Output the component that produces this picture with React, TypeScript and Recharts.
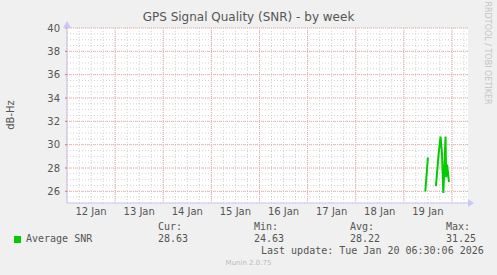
import React from "react";
import { ComposedChart, Line, XAxis, YAxis, CartesianGrid } from "recharts";

// hours since 12 Jan 00:00
const hours = [178.7, 180, 182, 184, 185.3, 186.3, 187, 187.7, 188.3, 188.8, 189.1, 189.6, 190.5];
const snr: (number | null)[] = [26.0, 28.9, null, 26.45, 29.1, 30.7, 29.3, 25.85, 28.4, 30.7, 27.2, 28.3, 26.8];

const dayLabels = ["12 Jan", "13 Jan", "14 Jan", "15 Jan", "16 Jan", "17 Jan", "18 Jan", "19 Jan"];
const labelTicks = [12, 36, 60, 84, 108, 132, 156, 180];
const dayTicks = [0, 24, 48, 72, 96, 120, 144, 168, 192];
const minorXTicks = Array.from({ length: 34 }, (_, i) => i * 6);
const yTicks = [26, 28, 30, 32, 34, 36, 38, 40];
const minorYTicks = Array.from({ length: 31 }, (_, i) => 25 + i * 0.5);

const legendName = "Average SNR";
const statLabels = ["Cur:", "Min:", "Avg:", "Max:"];
const statValues = ["28.63", "24.63", "28.22", "31.25"];

const data = hours.map((h, i) => ({ h, snr: snr[i] }));

const W = 497;
const H = 275;
const GREY = "#555";
const mono = "'DejaVu Sans Mono', monospace";
const sans = "'DejaVu Sans', sans-serif";

export default function App() {
  const tickFmt = (v: number) => dayLabels[labelTicks.indexOf(v)] ?? "";
  return (
    <div style={{ position: "absolute", left: 0, top: 0, width: W, height: H, background: "#f0f0f0", overflow: "hidden" }}>
      <ComposedChart width={W} height={H} data={data} margin={{ top: 28, right: 29, bottom: 52, left: 0 }}>
        <CartesianGrid
          xAxisId="main"
          fill="#ffffff"
          stroke="#d2d2d2"
          strokeDasharray="1 2"
          horizontalValues={minorYTicks}
          verticalValues={minorXTicks}
        />
        <CartesianGrid
          xAxisId="main"
          stroke="#eeaaaa"
          strokeDasharray="1 1"
          horizontalValues={yTicks}
          verticalValues={dayTicks}
        />
        <XAxis
          xAxisId="main"
          dataKey="h"
          type="number"
          domain={[0, 200]}
          ticks={labelTicks}
          tickFormatter={tickFmt}
          tickLine={false}
          tickSize={0}
          tickMargin={5}
          axisLine={{ stroke: "#c8c8f4" }}
          height={20}
          tick={{ fill: GREY, fontSize: 10, fontFamily: sans }}
          interval={0}
        />
        <XAxis
          xAxisId="days"
          dataKey="h"
          type="number"
          domain={[0, 200]}
          ticks={dayTicks}
          tick={false}
          tickLine={{ stroke: "#e07070" }}
          tickSize={3}
          axisLine={false}
          height={0}
        />
        <YAxis
          type="number"
          domain={[25, 40]}
          ticks={yTicks}
          width={67}
          tickLine={{ stroke: "#e07070" }}
          tickSize={2}
          tickMargin={5}
          axisLine={{ stroke: "#c8c8f4" }}
          tick={{ fill: GREY, fontSize: 10, fontFamily: sans }}
          interval={0}
        />
        <Line
          xAxisId="main"
          dataKey="snr"
          stroke="#00cc00"
          strokeWidth={2}
          dot={false}
          connectNulls={false}
          isAnimationActive={false}
        />
      </ComposedChart>
      <svg style={{ position: "absolute", left: 0, top: 0 }} width={W} height={H}>
        <polygon points="468,199 474,203 468,207" fill="#c8c8f4" />
        <polygon points="63,28 67,21 71,28" fill="#c8c8f4" />
      </svg>
      <div style={{ position: "absolute", left: 0, width: W, top: 10, textAlign: "center", fontFamily: sans, fontSize: 12, color: GREY, lineHeight: "14px" }}>
        GPS Signal Quality (SNR) - by week
      </div>
      <div style={{ position: "absolute", left: 10, top: 115, transform: "translate(-50%, -50%) rotate(-90deg)", fontFamily: sans, fontSize: 10, color: GREY, whiteSpace: "nowrap" }}>
        dB-Hz
      </div>
      <div style={{ position: "absolute", left: 487, top: 53, transform: "translate(-50%, -50%) rotate(90deg)", fontFamily: sans, fontSize: 8, color: "#c4c4c4", whiteSpace: "nowrap" }}>
        RRDTOOL / TOBI OETIKER
      </div>
      <div style={{ position: "absolute", left: 14, top: 236, width: 7, height: 7, background: "#00cc00" }} />
      <div style={{ position: "absolute", left: 26, top: 233, fontFamily: mono, fontSize: 10, color: GREY, lineHeight: "12px", whiteSpace: "pre" }}>
        {legendName}
      </div>
      {statLabels.map((s, i) => (
        <React.Fragment key={s}>
          <div style={{ position: "absolute", left: 158 + i * 96, top: 221, fontFamily: mono, fontSize: 10, color: GREY, lineHeight: "12px", whiteSpace: "pre" }}>{s}</div>
          <div style={{ position: "absolute", left: 158 + i * 96, top: 233, fontFamily: mono, fontSize: 10, color: GREY, lineHeight: "12px", whiteSpace: "pre" }}>{statValues[i]}</div>
        </React.Fragment>
      ))}
      <div style={{ position: "absolute", left: 261, top: 245, fontFamily: mono, fontSize: 10, color: GREY, lineHeight: "12px", whiteSpace: "pre" }}>
        Last update: Tue Jan 20 06:30:06 2026
      </div>
      <div style={{ position: "absolute", left: 0, width: W, top: 258, textAlign: "center", fontFamily: sans, fontSize: 7, color: "#bbb", lineHeight: "10px" }}>
        Munin 2.0.75
      </div>
    </div>
  );
}
